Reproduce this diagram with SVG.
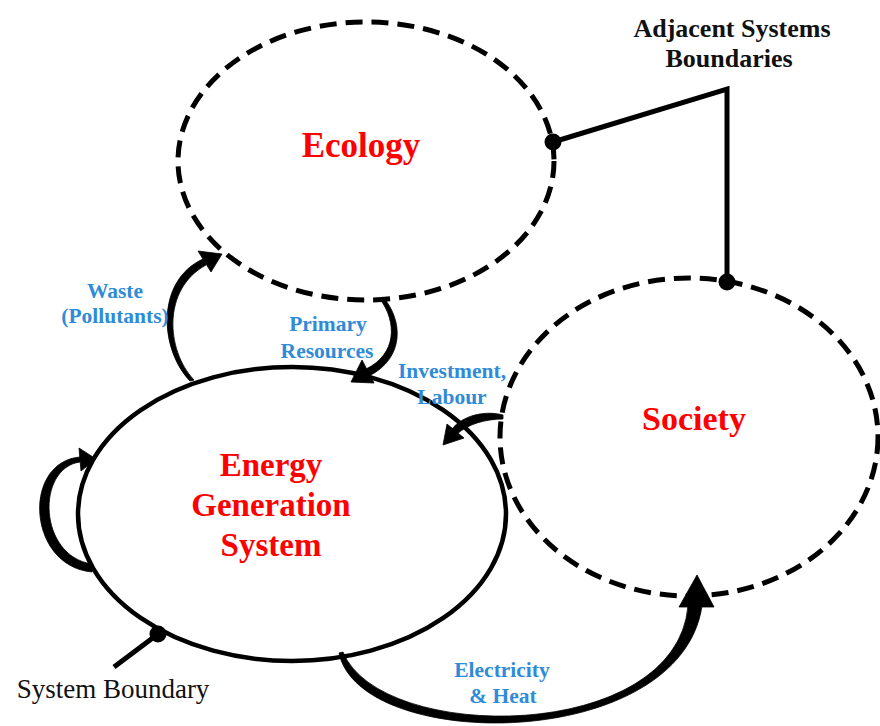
<svg xmlns="http://www.w3.org/2000/svg" width="880" height="726" viewBox="0 0 880 726">
  <style>
    .adjacent { fill: none; stroke: #000; stroke-width: 5; stroke-dasharray: 17 9; }
    .core { fill: none; stroke: #000; stroke-width: 4.5; }
    .flow { fill: #000; stroke: #000; stroke-width: 0.8; stroke-linejoin: round; }
    .leader { fill: none; stroke: #000; stroke-width: 5; stroke-linejoin: miter; }
    .dot { fill: #000; }
    .title { font-family: "Liberation Serif", "Times New Roman", serif; font-weight: bold; fill: #ff0000; text-anchor: middle; }
    .flowlabel { font-family: "Liberation Serif", "Times New Roman", serif; font-weight: bold; font-size: 21.5px; fill: #2f8bd8; text-anchor: middle; }
    .note { font-family: "Liberation Serif", "Times New Roman", serif; fill: #111; text-anchor: middle; }
  </style>

  <rect width="880" height="726" fill="#fff"/>

  <!-- systems -->
  <g id="ecology">
    <ellipse class="adjacent" cx="366" cy="161" rx="188" ry="139"/>
    <text class="title" x="361" y="157" font-size="35">Ecology</text>
  </g>

  <g id="society">
    <ellipse class="adjacent" cx="689" cy="437" rx="189" ry="159"/>
    <text class="title" x="694" y="430" font-size="34">Society</text>
  </g>

  <g id="energy-generation-system">
    <ellipse class="core" cx="292" cy="514" rx="214" ry="147"/>
    <text class="title" x="271" y="476" font-size="33">Energy</text>
    <text class="title" x="271" y="516" font-size="33">Generation</text>
    <text class="title" x="271" y="556" font-size="33">System</text>
  </g>

  <!-- flows between systems -->
  <g id="connectors">
    <!-- waste to ecology -->
    <g id="flow-waste">
      <path class="flow" d="M 190 381 C 160 350 155 281 203 259 L 206 265 C 162 289 166 350 194 380 Z"/>
      <polygon class="flow" points="198,251 222,254 211,272"/>
    </g>
    <!-- primary resources from ecology -->
    <g id="flow-resources">
      <path class="flow" d="M 383 297 C 403 320 405 358 369 376 L 366 369 C 397 354 397 322 380 299 Z"/>
      <polygon class="flow" points="374,383 351,382 362,360"/>
    </g>
    <!-- investment and labour from society -->
    <g id="flow-investment">
      <path class="flow" d="M 503 415 C 484 410 462 416 452 429 L 457 434 C 468 424 486 419 503 419 Z"/>
      <polygon class="flow" points="447,424 443,445 464,438"/>
    </g>
    <!-- internal feedback loop -->
    <g id="flow-internal">
      <path class="flow" d="M 92 572 C 27 566 22 462 80 457 L 80 462 C 36 468 38 556 92 564 Z"/>
      <polygon class="flow" points="79,448 96,459 81,471"/>
    </g>
    <!-- electricity and heat to society -->
    <g id="flow-electricity">
      <path class="flow" d="M 339 653 C 360 753 680 753 702 606 L 688 606 C 676 744 380 744 343 652 Z"/>
      <polygon class="flow" points="679,607 697,575 714,607"/>
    </g>
  </g>

  <!-- flow labels -->
  <g id="labels">
    <text class="flowlabel" x="115" y="298">Waste</text>
    <text class="flowlabel" x="115" y="323">(Pollutants)</text>
    <text class="flowlabel" x="328" y="331">Primary</text>
    <text class="flowlabel" x="327" y="358">Resources</text>
    <text class="flowlabel" x="452" y="378">Investment,</text>
    <text class="flowlabel" x="452" y="404">Labour</text>
    <text class="flowlabel" x="502" y="677">Electricity</text>
    <text class="flowlabel" x="503" y="703">&amp; Heat</text>
  </g>

  <!-- boundary callouts -->
  <g id="adjacent-boundaries-callout">
    <polyline class="leader" points="553,142 727,89 727,282"/>
    <circle class="dot" cx="553" cy="142" r="8.5"/>
    <circle class="dot" cx="727" cy="282" r="8.5"/>
    <text class="note" x="732" y="37" font-size="26" font-weight="bold">Adjacent Systems</text>
    <text class="note" x="729" y="67" font-size="26" font-weight="bold">Boundaries</text>
  </g>

  <g id="system-boundary-callout">
    <line class="leader" x1="158" y1="634" x2="114" y2="667"/>
    <circle class="dot" cx="158" cy="634" r="8.5"/>
    <text class="note" x="113" y="698" font-size="27">System Boundary</text>
  </g>
</svg>
